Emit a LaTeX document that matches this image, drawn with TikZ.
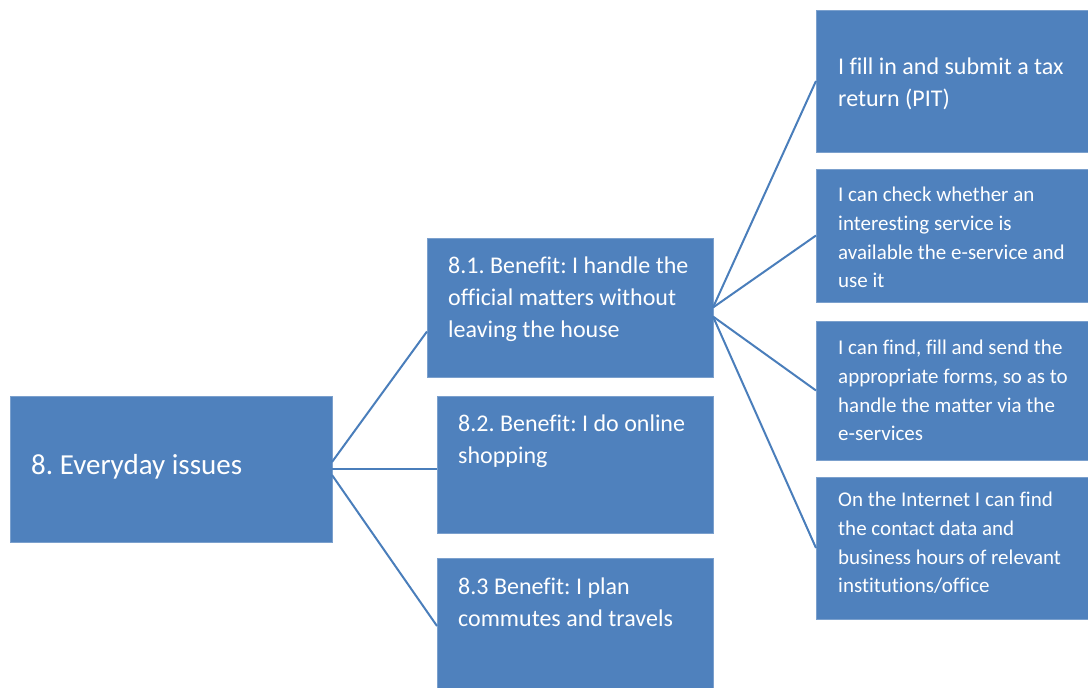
\documentclass[tikz,border=0pt]{standalone}
\usepackage{fontspec}
\setmainfont{Carlito}[Ligatures=NoCommon]
\frenchspacing
\definecolor{boxblue}{HTML}{4F81BD}
\definecolor{lineblue}{HTML}{4A7EBB}
\tikzset{
  box/.style={fill=boxblue, draw=boxblue!75!white, line width=0.8pt, anchor=north west, inner sep=0pt, outer sep=0pt},
  boxtext/.style={text=white, align=left, inner sep=0pt},
  link/.style={draw=lineblue, line width=2pt},
  midfont/.style={font=\fontsize{24}{32}\selectfont},
  sidefont/.style={font=\fontsize{21}{28.7}\selectfont},
}
\begin{document}
\begin{tikzpicture}[x=1pt,y=-1pt]
    \useasboundingbox (0,0) rectangle (1088,688);

    % boxes
    \node[box, minimum width=322pt, minimum height=146pt] (main) at (10,396) {};
    \node[box, minimum width=286pt, minimum height=139pt] (b1) at (427,238) {};
    \node[box, minimum width=276pt, minimum height=137pt] (b2) at (437,396) {};
    \node[box, minimum width=276pt, minimum height=130pt] (b3) at (437,558) {};
    \node[box, minimum width=272pt, minimum height=142pt] (r1) at (816,10) {};
    \node[box, minimum width=272pt, minimum height=133pt] (r2) at (816,169) {};
    \node[box, minimum width=272pt, minimum height=139pt] (r3) at (816,321) {};
    \node[box, minimum width=272pt, minimum height=142pt] (r4) at (816,477) {};

    % texts
    \node[boxtext, anchor=west, font=\fontsize{29}{34}\selectfont] (maintxt) at ([xshift=21pt,yshift=2pt]main.west) {8. Everyday issues};

    \node[boxtext, midfont, anchor=north west] (b1txt) at ([xshift=21pt,yshift=-19pt]b1.north west) {8.1. Benefit: I handle the\\ official matters without\\ leaving the house};
    \node[boxtext, midfont, anchor=north west] (b2txt) at ([xshift=21pt,yshift=-18.5pt]b2.north west) {8.2. Benefit: I do online\\ shopping};
    \node[boxtext, midfont, anchor=north west] (b3txt) at ([xshift=21pt,yshift=-20pt]b3.north west) {8.3 Benefit: I plan\\ commutes and travels};

    \node[boxtext, midfont, anchor=west] (r1txt) at ([xshift=22pt,yshift=-3pt]r1.west) {I fill in and submit a tax\\ return (PIT)};
    \node[boxtext, sidefont, anchor=west] (r2txt) at ([xshift=22pt,yshift=-2pt]r2.west) {I can check whether an\\ interesting service is\\ available the e-service and\\ use it};
    \node[boxtext, sidefont, anchor=west] (r3txt) at ([xshift=22pt]r3.west) {I can find, fill and send the\\ appropriate forms, so as to\\ handle the matter via the\\ e-services};
    \node[boxtext, sidefont, anchor=west] (r4txt) at ([xshift=22pt,yshift=5pt]r4.west) {On the Internet I can find\\ the contact data and\\ business hours of relevant\\ institutions/office};

    % connectors
    \draw[link] ([yshift=7pt]main.east) -- ([yshift=-24pt]b1.west);
    \draw[link] (main.east) -- (main.east -| b2.west);
    \draw[link] ([yshift=-6pt]main.east) -- ([yshift=-3pt]b3.west);

    \draw[link] (b1.east) -- (r1.west);
    \draw[link] (b1.east) -- (r2.west);
    \draw[link] ([yshift=-9pt]b1.east) -- (r3.west);
    \draw[link] ([yshift=-9pt]b1.east) -- (r4.west);
\end{tikzpicture}
\end{document}
